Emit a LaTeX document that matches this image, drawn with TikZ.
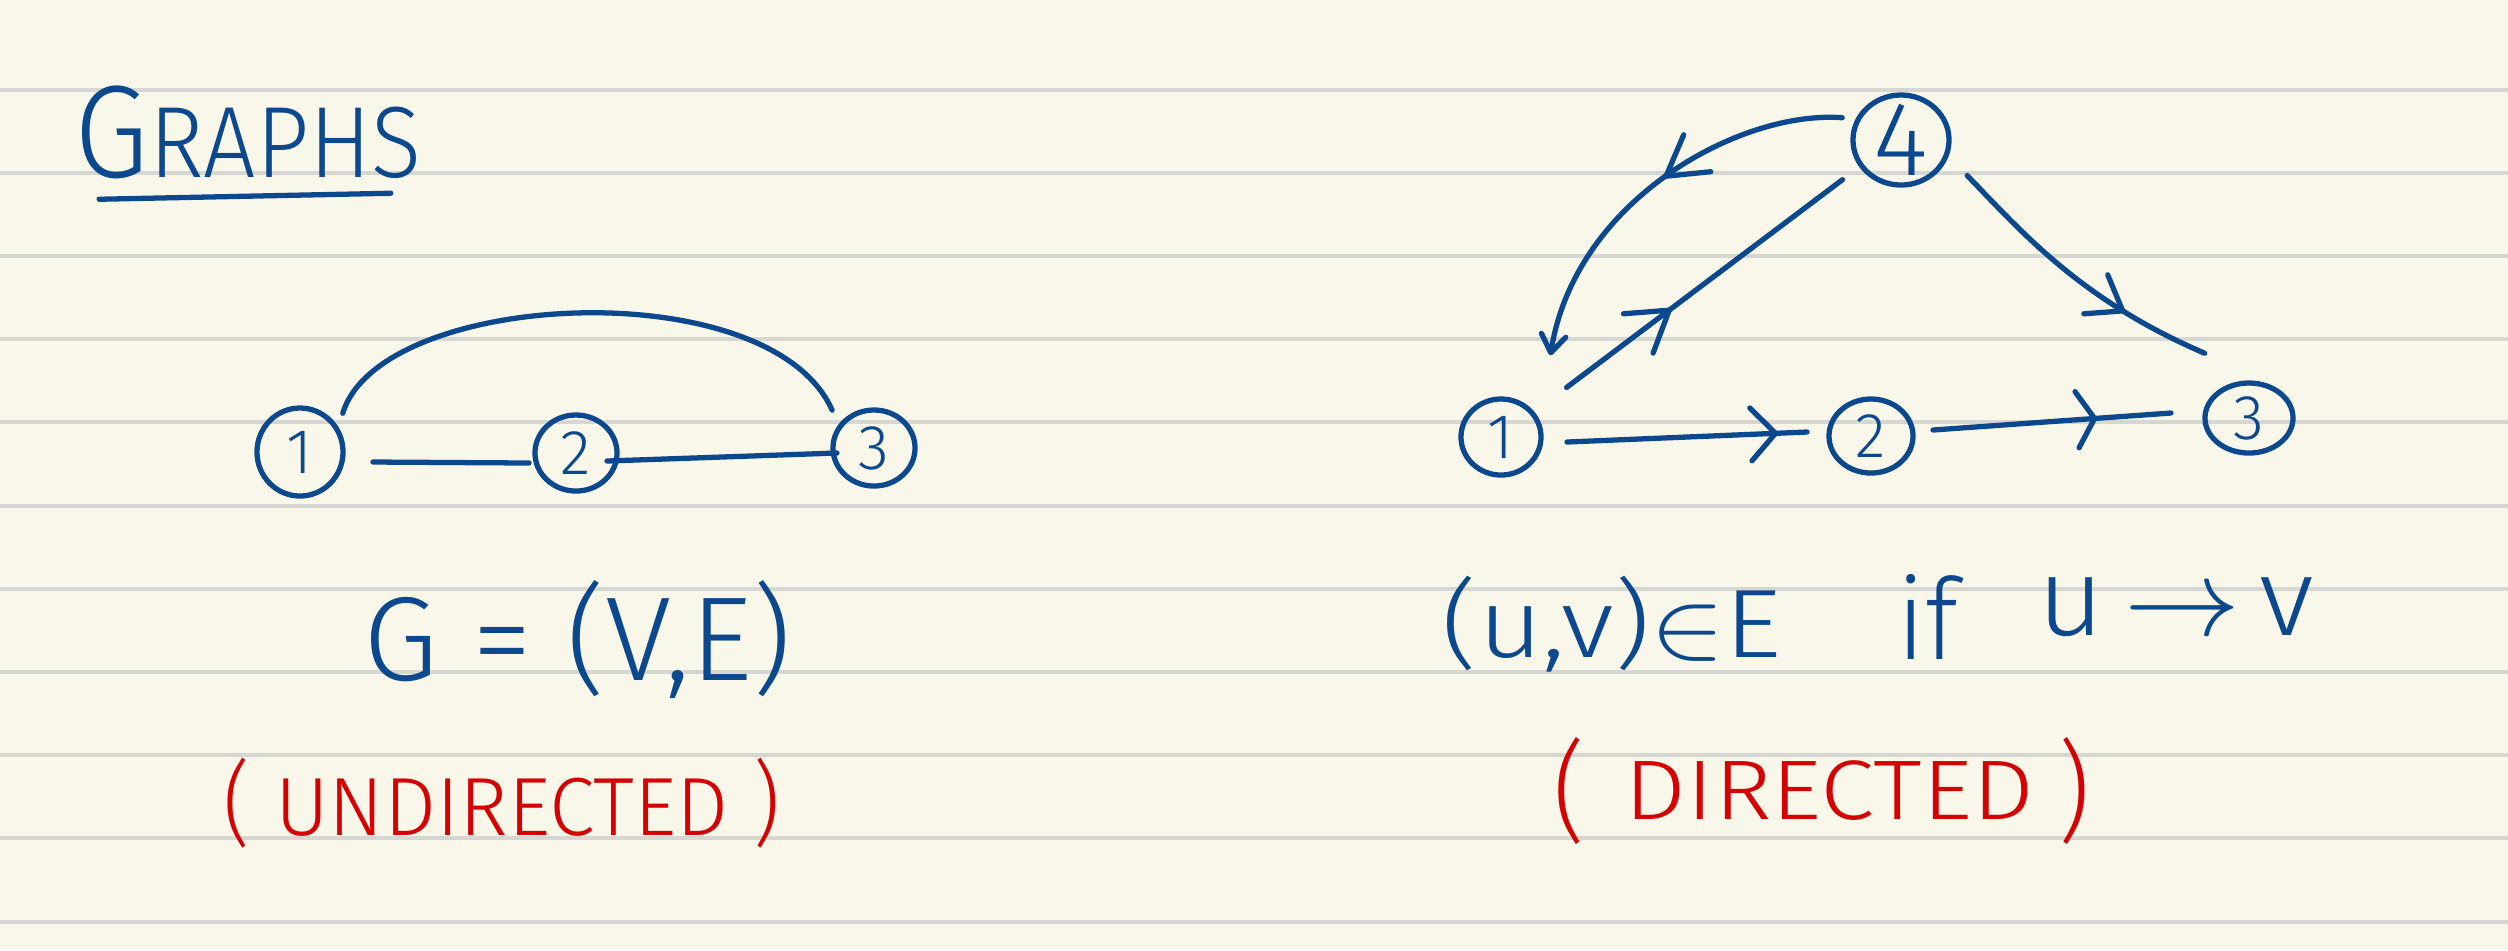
\documentclass[tikz,border=0pt]{standalone}
\usepackage{fontspec}
\usepackage{graphicx}
\newfontfamily\hand{Fira Sans Light}
\usetikzlibrary{shapes.geometric,arrows.meta,decorations.markings,calc}
\definecolor{paper}{RGB}{249,247,233}
\definecolor{rulecol}{RGB}{214,214,210}
\definecolor{ink}{RGB}{12,72,142}
\definecolor{redink}{RGB}{212,2,2}
\begin{document}
\begin{tikzpicture}[x=0.01cm,y=-0.01cm, line cap=round, line join=round,
  pen/.style={draw=ink, line width=1.5pt},
  vtx/.style={ellipse, draw=ink, line width=1.5pt, inner sep=-8pt, outer sep=0pt, text=ink, font=\hand\fontsize{18}{18}\selectfont},
  bluetext/.style={text=ink, inner sep=0pt},
  redtext/.style={text=redink, inner sep=0pt},
  tipat/.style 2 args={postaction={decorate, decoration={markings, mark=at position #1 with {\arrow[ink, line width=1.5pt]{#2}}}}}
]
\fill[paper] (0,0) rectangle (2508,950);
\useasboundingbox (0,0) rectangle (2508,950);
\foreach \ry in {90,173,256,339,422,506,589,672,755,838,922}
  \draw[rulecol, line width=0.9pt] (0,\ry) -- (2508,\ry);

% title
\node[bluetext] (title) at (248,132) {\resizebox*{3.46cm}{0.93cm}{\hand\scalebox{1.3}{G}RAPHS}};
\draw[pen] ($(title.south west)+(25,20)$) -- ($(title.south east)+(-31,14)$);

% undirected graph
\node[vtx, minimum width=0.86cm, minimum height=0.88cm] (u1) at (300,452) {1};
\node[vtx, minimum width=0.82cm, minimum height=0.76cm] (u2) at (576,453) {2};
\node[vtx, minimum width=0.82cm, minimum height=0.76cm] (u3) at (874,448) {3};
\draw[pen] ($(u1.east)+(30,10)$) -- ($(u2.west)+(-6,10)$);
\draw[pen] ($(u2.east)+(-10,8)$) -- ($(u3.west)+(4,5)$);
\draw[pen] ($(u1.45)+(12,-8)$) .. controls (380,290) and (770,270) .. ($(u3.135)+(-14,-10)$);

\node[bluetext] (gdef) at (578,639) {\resizebox*{4.28cm}{1.18cm}{\hand G = (V,E)}};
\node[redtext] (undir) at (502,803) {\resizebox*{5.56cm}{0.90cm}{\hand\scalebox{1}[1.12]{(}\hspace{0.3em}UNDIRECTED\hspace{0.3em}\scalebox{1}[1.12]{)}}};

% directed graph
\node[vtx, inner sep=-14pt, minimum width=0.96cm, minimum height=0.90cm, font=\hand\fontsize{30}{30}\selectfont] (d4) at (1901,140) {4};
\node[vtx, minimum width=0.80cm, minimum height=0.76cm] (d1) at (1501,437) {1};
\node[vtx, minimum width=0.84cm, minimum height=0.74cm] (d2) at (1871,436) {2};
\node[vtx, minimum width=0.88cm, minimum height=0.70cm] (d3) at (2249,418) {3};

\draw[pen, tipat={0.88}{Straight Barb[length=7pt,width=15pt,round]}]
  ($(d1.east)+(26,5)$) -- ($(d2.west)+(-22,-4)$);
\draw[pen, tipat={0.69}{Straight Barb[length=5pt,width=16pt,round]}]
  ($(d2.east)+(20,-6)$) -- ($(d3.west)+(-34,-5)$);
\draw[pen, tipat={0.38}{Straight Barb[length=11pt,width=14pt,round]}]
  ($(d1.45)+(38,-22)$) -- ($(d4.213)+(-19,14)$);
\draw[pen, tipat={0.47}{Straight Barb[length=11pt,width=13pt,round]}, -{Straight Barb[length=5pt,width=7pt,round]}]
  ($(d4.160)+(-14,-6)$) .. controls (1740,110) and (1575,200) .. ($(d1.58)+(29,-49)$);
\draw[pen, tipat={0.70}{Straight Barb[length=9pt,width=13pt,round]}]
  ($(d4.-27)+(24,14)$) .. controls (2020,230) and (2080,300) .. ($(d3.128)+(-21,-35)$);

\node[bluetext] (rel1) at (1612,624) {\resizebox*{3.40cm}{0.96cm}{\hand(u,v)$\in$E}};
\node[bluetext] (rel2) at (1928,617) {\resizebox*{0.60cm}{0.85cm}{\hand if}};
\node[bluetext] (rel3) at (2176,607) {\resizebox*{2.76cm}{0.59cm}{\hand u\,$\rightarrow$\,v}};
\node[redtext] (dir) at (1822,791) {\resizebox*{5.36cm}{1.07cm}{\hand\scalebox{1}[1.3]{(}\hspace{0.4em}\raisebox{0.12em}{DIRECTED}\hspace{0.25em}\scalebox{1}[1.3]{)}}};
\end{tikzpicture}
\end{document}
